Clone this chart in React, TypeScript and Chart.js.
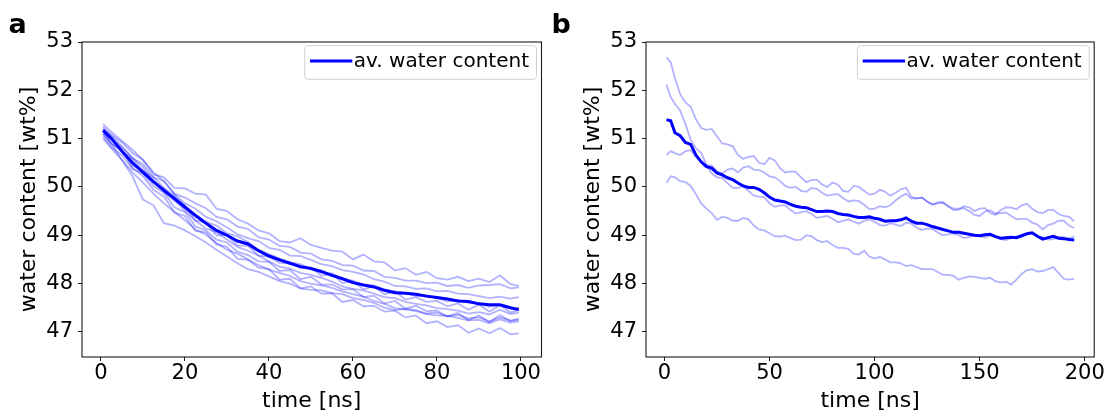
import React, { useEffect, useRef } from 'react';
import { Chart, registerables } from 'chart.js';

Chart.register(...registerables);

// ---------- data ----------
const timeA = [0.5, 2.5, 5, 7.5, 10, 12.5, 15, 17.5, 20, 22.5, 25, 27.5, 30, 32.5, 35, 37.5, 40, 42.5, 45, 47.5, 50, 52.5, 55, 57.5, 60, 62.5, 65, 67.5, 70, 72.5, 75, 77.5, 80, 82.5, 85, 87.5, 90, 92.5, 95, 97.5, 99.5];

const avgA = [51.17, 51.0, 50.74, 50.5, 50.3, 50.11, 49.93, 49.76, 49.58, 49.41, 49.25, 49.1, 49.0, 48.88, 48.82, 48.68, 48.57, 48.49, 48.42, 48.35, 48.31, 48.25, 48.17, 48.1, 48.02, 47.97, 47.93, 47.86, 47.81, 47.8, 47.78, 47.74, 47.71, 47.68, 47.64, 47.63, 47.58, 47.56, 47.56, 47.5, 47.46];

const runA1 = [51.25, 51.08, 50.92, 50.7, 50.56, 50.26, 50.2, 49.98, 49.97, 49.86, 49.84, 49.55, 49.5, 49.33, 49.24, 49.1, 49.04, 48.88, 48.85, 48.94, 48.8, 48.74, 48.68, 48.66, 48.5, 48.6, 48.46, 48.44, 48.27, 48.32, 48.18, 48.24, 48.11, 48.08, 48.14, 48.05, 48.1, 48.03, 48.17, 47.99, 47.95];
const runA2 = [51.2, 51.0, 50.82, 50.6, 50.47, 50.2, 50.12, 49.86, 49.78, 49.66, 49.56, 49.38, 49.33, 49.18, 49.13, 48.96, 48.91, 48.78, 48.76, 48.64, 48.62, 48.5, 48.47, 48.38, 48.37, 48.27, 48.26, 48.14, 48.12, 48.06, 48.06, 48.01, 48.02, 47.95, 47.97, 47.91, 47.96, 47.97, 47.99, 47.9, 47.92];
const runA3 = [51.3, 51.14, 50.95, 50.77, 50.56, 50.3, 50.12, 49.85, 49.66, 49.55, 49.38, 49.29, 49.16, 49.02, 48.94, 48.88, 48.74, 48.7, 48.58, 48.57, 48.49, 48.4, 48.36, 48.28, 48.24, 48.19, 48.09, 48.04, 47.95, 47.94, 47.89, 47.9, 47.84, 47.85, 47.79, 47.78, 47.74, 47.7, 47.73, 47.69, 47.72];
const runA4 = [51.15, 50.98, 50.73, 50.58, 50.33, 50.2, 49.98, 49.82, 49.62, 49.42, 49.28, 49.2, 49.04, 48.98, 48.86, 48.7, 48.61, 48.52, 48.44, 48.4, 48.31, 48.22, 48.21, 48.1, 48.06, 47.97, 47.96, 47.88, 47.84, 47.8, 47.74, 47.76, 47.7, 47.63, 47.66, 47.6, 47.59, 47.52, 47.56, 47.48, 47.5];
const runA5 = [51.1, 50.88, 50.75, 50.44, 50.35, 50.08, 49.97, 49.72, 49.6, 49.3, 49.26, 49.0, 49.0, 48.79, 48.78, 48.58, 48.56, 48.43, 48.42, 48.32, 48.33, 48.16, 48.2, 48.01, 48.05, 47.88, 47.94, 47.78, 47.84, 47.67, 47.72, 47.62, 47.64, 47.53, 47.59, 47.46, 47.56, 47.42, 47.55, 47.4, 47.45];
const runA6 = [51.2, 51.06, 50.84, 50.6, 50.41, 50.12, 49.89, 49.72, 49.51, 49.3, 49.14, 49.06, 48.91, 48.76, 48.68, 48.58, 48.46, 48.35, 48.31, 48.22, 48.18, 48.12, 48.04, 47.94, 47.89, 47.86, 47.79, 47.72, 47.7, 47.62, 47.58, 47.55, 47.49, 47.47, 47.44, 47.38, 47.41, 47.36, 47.46, 47.37, 47.4];
const runA7 = [51.05, 50.82, 50.66, 50.37, 50.28, 50.02, 49.88, 49.58, 49.48, 49.18, 49.1, 48.91, 48.85, 48.66, 48.59, 48.46, 48.45, 48.26, 48.28, 48.09, 48.14, 47.98, 47.98, 47.88, 47.88, 47.72, 47.75, 47.59, 47.64, 47.48, 47.54, 47.43, 47.44, 47.32, 47.39, 47.24, 47.34, 47.2, 47.35, 47.22, 47.28];
const runA8 = [51.0, 50.8, 50.56, 50.3, 50.09, 49.86, 49.66, 49.48, 49.31, 49.12, 49.01, 48.84, 48.7, 48.62, 48.5, 48.38, 48.29, 48.22, 48.16, 48.05, 48.0, 47.96, 47.91, 47.84, 47.78, 47.73, 47.64, 47.58, 47.49, 47.46, 47.43, 47.37, 47.34, 47.33, 47.29, 47.24, 47.25, 47.18, 47.26, 47.19, 47.22];
const runA9 = [51.1, 50.9, 50.55, 50.22, 49.74, 49.62, 49.25, 49.2, 49.1, 48.98, 48.85, 48.7, 48.56, 48.42, 48.3, 48.24, 48.15, 48.05, 48.0, 47.9, 47.87, 47.86, 47.8, 47.78, 47.7, 47.66, 47.6, 47.5, 47.45, 47.48, 47.45, 47.38, 47.4, 47.32, 47.35, 47.28, 47.3, 47.22, 47.3, 47.24, 47.25];
const runA10 = [51.15, 50.9, 50.76, 50.4, 50.22, 49.94, 49.8, 49.47, 49.4, 49.09, 49.06, 48.81, 48.76, 48.51, 48.49, 48.33, 48.3, 48.08, 48.1, 47.9, 47.94, 47.79, 47.8, 47.62, 47.66, 47.53, 47.54, 47.42, 47.44, 47.3, 47.34, 47.18, 47.22, 47.1, 47.14, 46.98, 47.07, 46.97, 47.08, 46.95, 46.97];

const timeB = [1, 3, 5, 7.5, 10, 12.5, 15, 17.5, 20, 22.5, 25, 27.5, 30, 32.5, 35, 37.5, 40, 42.5, 45, 47.5, 50, 52.5, 55, 57.5, 60, 62.5, 65, 67.5, 70, 72.5, 75, 77.5, 80, 82.5, 85, 87.5, 90, 92.5, 95, 97.5, 100, 102.5, 105, 107.5, 110, 112.5, 115, 117.5, 120, 122.5, 125, 127.5, 130, 132.5, 135, 137.5, 140, 142.5, 145, 147.5, 150, 152.5, 155, 157.5, 160, 162.5, 165, 167.5, 170, 172.5, 175, 177.5, 180, 182.5, 185, 187.5, 190, 192.5, 195];

const avgB = [51.39, 51.37, 51.12, 51.06, 50.92, 50.88, 50.66, 50.52, 50.42, 50.39, 50.29, 50.25, 50.19, 50.15, 50.08, 50.02, 49.99, 49.99, 49.95, 49.88, 49.79, 49.73, 49.71, 49.69, 49.64, 49.6, 49.58, 49.57, 49.53, 49.49, 49.49, 49.5, 49.49, 49.45, 49.43, 49.42, 49.39, 49.37, 49.37, 49.38, 49.35, 49.33, 49.29, 49.3, 49.3, 49.32, 49.36, 49.29, 49.25, 49.25, 49.22, 49.18, 49.15, 49.12, 49.09, 49.06, 49.06, 49.04, 49.02, 49.0, 48.99, 49.01, 49.02, 48.97, 48.94, 48.95, 48.96, 48.95, 48.99, 49.03, 49.05, 48.98, 48.92, 48.95, 48.98, 48.94, 48.93, 48.91, 48.9];

const runB1 = [52.68, 52.58, 52.25, 51.92, 51.75, 51.66, 51.4, 51.22, 51.18, 51.2, 51.05, 50.9, 50.88, 50.84, 50.66, 50.58, 50.62, 50.64, 50.5, 50.47, 50.6, 50.55, 50.39, 50.3, 50.32, 50.31, 50.2, 50.1, 50.14, 50.15, 50.05, 50.0, 50.09, 50.05, 49.92, 49.9, 50.02, 50.0, 49.92, 49.84, 49.86, 49.94, 49.9, 49.82, 49.88, 49.95, 49.98, 49.8, 49.76, 49.78, 49.7, 49.63, 49.68, 49.69, 49.6, 49.52, 49.53, 49.6, 49.58, 49.5, 49.55, 49.56, 49.46, 49.42, 49.52, 49.58, 49.57, 49.54, 49.62, 49.65, 49.55, 49.48, 49.46, 49.52, 49.53, 49.44, 49.4, 49.38, 49.29];
const runB2 = [52.12, 51.86, 51.72, 51.58, 51.3, 50.98, 50.8, 50.7, 50.46, 50.28, 50.2, 50.19, 50.08, 49.98, 49.98, 50.01, 49.92, 49.82, 49.8, 49.79, 49.66, 49.59, 49.62, 49.62, 49.52, 49.45, 49.48, 49.5, 49.44, 49.36, 49.38, 49.4, 49.34, 49.27, 49.3, 49.33, 49.28, 49.24, 49.3, 49.33, 49.28, 49.21, 49.2, 49.25, 49.22, 49.19, 49.26, 49.24, 49.16, 49.11, 49.14, 49.13, 49.06, 49.0, 49.02, 49.04, 49.0, 48.94, 48.96, 49.0, 48.98, 48.95, 49.0, 48.98, 48.92, 48.9, 48.94, 48.98, 48.98, 49.03, 49.04, 48.97, 48.96, 48.91, 48.92, 48.97, 48.96, 48.93, 48.98];
const runB3 = [50.66, 50.74, 50.7, 50.66, 50.74, 50.76, 50.62, 50.5, 50.45, 50.44, 50.32, 50.28, 50.36, 50.38, 50.3, 50.4, 50.43, 50.36, 50.35, 50.3, 50.22, 50.2, 50.12, 50.02, 49.98, 50.0, 49.92, 49.9, 49.98, 49.96, 49.88, 49.82, 49.84, 49.85, 49.77, 49.7, 49.72, 49.71, 49.63, 49.54, 49.55, 49.6, 49.58, 49.62, 49.72, 49.8, 49.86, 49.76, 49.77, 49.78, 49.7, 49.64, 49.66, 49.67, 49.6, 49.55, 49.55, 49.56, 49.5, 49.42, 49.4, 49.49, 49.52, 49.45, 49.46, 49.47, 49.4, 49.33, 49.34, 49.34, 49.26, 49.22, 49.12, 49.21, 49.24, 49.3, 49.3, 49.2, 49.15];
const runB4 = [50.08, 50.22, 50.2, 50.12, 50.1, 50.02, 49.85, 49.66, 49.55, 49.46, 49.32, 49.38, 49.36, 49.3, 49.3, 49.36, 49.33, 49.2, 49.12, 49.1, 49.04, 48.98, 48.97, 48.99, 48.94, 48.9, 48.91, 49.0, 48.98, 48.9, 48.86, 48.88, 48.8, 48.74, 48.74, 48.72, 48.62, 48.6, 48.68, 48.56, 48.52, 48.55, 48.5, 48.44, 48.44, 48.42, 48.36, 48.38, 48.34, 48.3, 48.3, 48.3, 48.24, 48.18, 48.18, 48.16, 48.08, 48.12, 48.15, 48.14, 48.12, 48.1, 48.12, 48.05, 48.02, 48.04, 47.98, 48.08, 48.2, 48.28, 48.3, 48.25, 48.26, 48.3, 48.34, 48.22, 48.1, 48.08, 48.1];

const xTicksA = [0, 20, 40, 60, 80, 100];
const xTicksB = [0, 50, 100, 150, 200];
const yTicks = [47, 48, 49, 50, 51, 52, 53];

const legendLabel = 'av. water content';
const xTitle = 'time [ns]';
const yTitle = 'water content [wt%]';

const FONT = "'DejaVu Sans', 'Noto Sans', sans-serif";

Chart.defaults.font.family = FONT;

type PanelCfg = {
  label: string;
  labelX: number;
  time: number[];
  avg: number[];
  runs: number[][];
  xTicks: number[];
  xMin: number;
  xMax: number;
  yAxisWidth: number;
  padRight: number;
  yTitlePad: number;
};

const panels: PanelCfg[] = [
  {
    label: 'a', labelX: 8.5, time: timeA, avg: avgA,
    runs: [runA1, runA2, runA3, runA4, runA5, runA6, runA7, runA8, runA9, runA10],
    xTicks: xTicksA, xMin: -4.52, xMax: 104.9, yAxisWidth: 82, padRight: 8.5, yTitlePad: 18,
  },
  {
    label: 'b', labelX: 1.5, time: timeB, avg: avgB,
    runs: [runB1, runB2, runB3, runB4],
    xTicks: xTicksB, xMin: -8.76, xMax: 204.5, yAxisWidth: 96, padRight: 12.8, yTitlePad: 32,
  },
];

const toXY = (xs: number[], ys: number[]) => xs.map((x, i) => ({ x, y: ys[i] }));

const decorPlugin = {
  id: 'decor',
  afterDatasetsDraw(chart: any, _args: any, opts: any) {
    const { ctx, chartArea: a } = chart;
    ctx.save();
    // full frame (spines)
    ctx.strokeStyle = '#1a1a1a';
    ctx.lineWidth = 1.1;
    ctx.strokeRect(a.left, a.top, a.right - a.left, a.bottom - a.top);

    // legend box
    const label = chart.data.datasets[0].label as string;
    ctx.font = `20px ${FONT}`;
    const tw = ctx.measureText(label).width;
    const right = a.right - 5;
    const top = a.top + 3.7;
    const h = 33.6;
    const textX = right - 7.5 - tw;
    const lineEnd = textX - 1.5;
    const lineStart = lineEnd - 42.3;
    const left = lineStart - 5.3;
    const r = 3;
    ctx.beginPath();
    ctx.moveTo(left + r, top);
    ctx.lineTo(right - r, top);
    ctx.arcTo(right, top, right, top + r, r);
    ctx.lineTo(right, top + h - r);
    ctx.arcTo(right, top + h, right - r, top + h, r);
    ctx.lineTo(left + r, top + h);
    ctx.arcTo(left, top + h, left, top + h - r, r);
    ctx.lineTo(left, top + r);
    ctx.arcTo(left, top, left + r, top, r);
    ctx.closePath();
    ctx.fillStyle = 'rgba(255,255,255,0.8)';
    ctx.fill();
    ctx.strokeStyle = '#d0d0d0';
    ctx.lineWidth = 1;
    ctx.stroke();

    const cy = top + h / 2 - 1.5;
    ctx.strokeStyle = '#0000ff';
    ctx.lineWidth = 3;
    ctx.beginPath();
    ctx.moveTo(lineStart, cy);
    ctx.lineTo(lineEnd, cy);
    ctx.stroke();

    ctx.fillStyle = '#000';
    ctx.textBaseline = 'middle';
    ctx.textAlign = 'left';
    ctx.fillText(label, textX, cy + 0.5);

    // panel label
    ctx.font = `bold 27px ${FONT}`;
    ctx.textBaseline = 'alphabetic';
    ctx.fillText(opts.label, opts.labelX, 33.3);
    ctx.restore();
  },
};

function makeChart(canvas: HTMLCanvasElement, p: PanelCfg) {
  const datasets: any[] = [
    {
      label: legendLabel,
      data: toXY(p.time, p.avg),
      borderColor: '#0000ff',
      borderWidth: 3,
      pointRadius: 0,
      tension: 0,
    },
    ...p.runs.map((r) => ({
      label: '',
      data: toXY(p.time, r),
      borderColor: 'rgba(0,0,255,0.3)',
      borderWidth: 1.8,
      pointRadius: 0,
      tension: 0,
    })),
  ];
  return new Chart(canvas, {
    type: 'line',
    data: { datasets },
    plugins: [decorPlugin],
    options: {
      animation: false,
      responsive: false,
      devicePixelRatio: 1,
      events: [],
      layout: {
        autoPadding: false,
        padding: { top: 42, right: p.padRight, bottom: 0, left: 0 },
      },
      plugins: {
        legend: { display: false },
        tooltip: { enabled: false },
        decor: { label: p.label, labelX: p.labelX },
      } as any,
      scales: {
        x: {
          type: 'linear',
          position: 'bottom',
          min: p.xMin,
          max: p.xMax,
          afterBuildTicks: (s: any) => {
            s.ticks = p.xTicks.map((v) => ({ value: v }));
          },
          afterFit: (s: any) => {
            s.height = 55;
            s.paddingLeft = 0;
            s.paddingRight = 0;
          },
          ticks: {
            autoSkip: false,
            maxRotation: 0,
            minRotation: 0,
            padding: 0,
            color: '#000',
            font: { size: 21, family: FONT },
            callback: (v: any) => String(v),
          },
          grid: {
            drawOnChartArea: false,
            drawTicks: true,
            tickLength: 4,
            color: '#1a1a1a',
            lineWidth: 1,
          },
          border: { display: false },
          title: {
            display: true,
            text: xTitle,
            color: '#000',
            font: { size: 22, family: FONT, lineHeight: 1 },
            padding: { top: 0, bottom: 0 },
          },
        },
        y: {
          type: 'linear',
          position: 'left',
          min: 46.48,
          max: 53.0,
          afterBuildTicks: (s: any) => {
            s.ticks = yTicks.map((v) => ({ value: v }));
          },
          afterFit: (s: any) => {
            s.width = p.yAxisWidth;
            s.paddingTop = 0;
            s.paddingBottom = 0;
          },
          ticks: {
            autoSkip: false,
            padding: 5,
            color: '#000',
            font: { size: 21, family: FONT },
            callback: (v: any) => String(v),
          },
          grid: {
            drawOnChartArea: false,
            drawTicks: true,
            tickLength: 4,
            color: '#1a1a1a',
            lineWidth: 1,
          },
          border: { display: false },
          title: {
            display: true,
            text: yTitle,
            color: '#000',
            font: { size: 22, family: FONT, lineHeight: 1 },
            padding: { top: p.yTitlePad, bottom: 0 },
          },
        },
      },
    } as any,
  });
}

export default function App() {
  const refA = useRef<HTMLCanvasElement | null>(null);
  const refB = useRef<HTMLCanvasElement | null>(null);

  useEffect(() => {
    const charts: Chart[] = [];
    if (refA.current) charts.push(makeChart(refA.current, panels[0]));
    if (refB.current) charts.push(makeChart(refB.current, panels[1]));
    return () => charts.forEach((c) => c.destroy());
  }, []);

  return (
    <div style={{ position: 'absolute', left: 0, top: 0, width: 1107, height: 412, background: '#fff', overflow: 'hidden' }}>
      <canvas ref={refA} width={550} height={412} style={{ position: 'absolute', left: 0, top: 0, width: 550, height: 412 }} />
      <canvas ref={refB} width={557} height={412} style={{ position: 'absolute', left: 550, top: 0, width: 557, height: 412 }} />
    </div>
  );
}
